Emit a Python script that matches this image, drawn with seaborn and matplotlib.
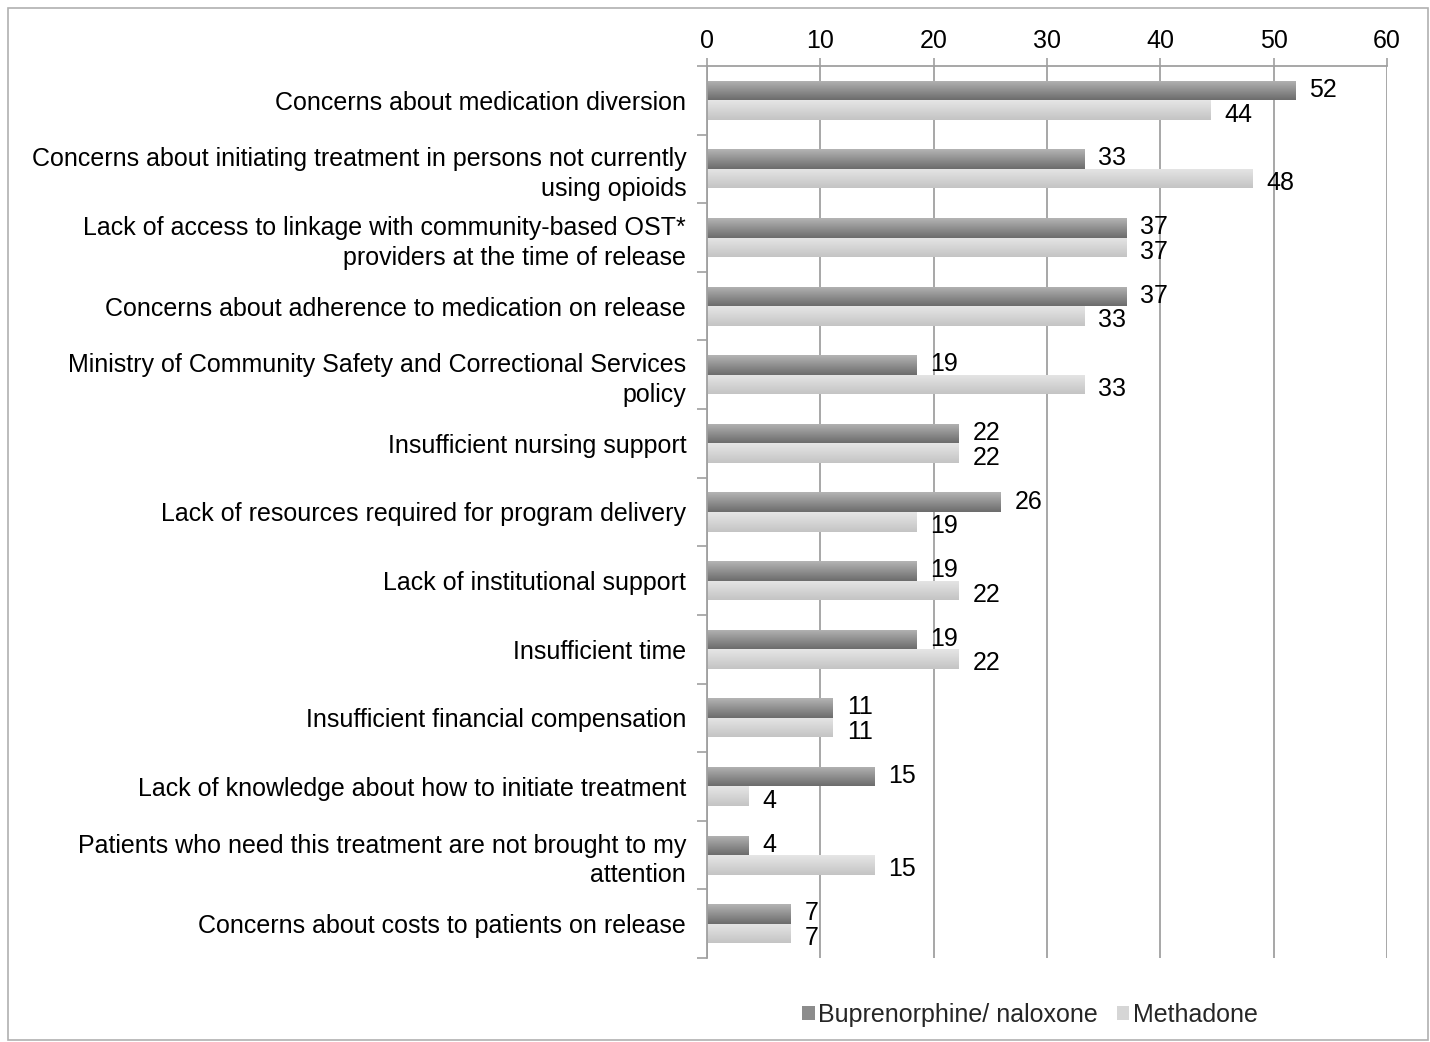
import numpy as np
import pandas as pd
import matplotlib
matplotlib.use("Agg")
import matplotlib.pyplot as plt
import seaborn as sns
from matplotlib.patches import Rectangle
from matplotlib.colors import LinearSegmentedColormap

categories = [
    "Concerns about medication diversion",
    "Concerns about initiating treatment in persons not currently\nusing opioids",
    "Lack of access to linkage with community-based OST*\nproviders at the time of release",
    "Concerns about adherence to medication on release",
    "Ministry of Community Safety and Correctional Services\npolicy",
    "Insufficient nursing support",
    "Lack of resources required for program delivery",
    "Lack of institutional support",
    "Insufficient time",
    "Insufficient financial compensation",
    "Lack of knowledge about how to initiate treatment",
    "Patients who need this treatment are not brought to my\nattention",
    "Concerns about costs to patients on release",
]
series_names = ["Buprenorphine/ naloxone", "Methadone"]
bup_values = [51.9, 33.3, 37.0, 37.0, 18.5, 22.2, 25.9, 18.5, 18.5, 11.1, 14.8, 3.7, 7.4]
met_values = [44.4, 48.1, 37.0, 33.3, 33.3, 22.2, 18.5, 22.2, 22.2, 11.1, 3.7, 14.8, 7.4]
bup_labels = ["52", "33", "37", "37", "19", "22", "26", "19", "19", "11", "15", "4", "7"]
met_labels = ["44", "48", "37", "33", "33", "22", "19", "22", "22", "11", "4", "15", "7"]
x_ticks = [0, 10, 20, 30, 40, 50, 60]

df = pd.DataFrame({
    "category": categories * 2,
    "value": bup_values + met_values,
    "series": [series_names[0]] * len(categories) + [series_names[1]] * len(categories),
})

sns.set_theme(style="white")
plt.rcParams["font.family"] = ["Liberation Sans", "DejaVu Sans"]
FS = 18

fig = plt.figure(figsize=(14.3, 10.42), dpi=100)
ax = fig.add_axes([707 / 1430, 1 - 958 / 1042, 680 / 1430, (958 - 66) / 1042])

sns.barplot(data=df, y="category", x="value", hue="series", order=categories,
            hue_order=series_names, palette=["#8c8c8c", "#d6d6d6"], orient="h",
            width=0.57, ax=ax, legend=False, saturation=1)

n = len(categories)
ax.set_xlabel("")
ax.set_ylabel("")

# gradient overlay
grads = {0: ("#b4b4b4", "#6c6c6c"), 1: ("#e6e6e6", "#c4c4c4")}
for i, p in enumerate(ax.patches[: 2 * n]):
    s = i // n
    cmap = LinearSegmentedColormap.from_list("g%d" % s, list(grads[s]))
    x0, y0 = p.get_x(), p.get_y()
    w, h = p.get_width(), p.get_height()
    grad = np.linspace(0, 1, 64).reshape(-1, 1)
    im = ax.imshow(grad, cmap=cmap, aspect="auto", extent=(x0, x0 + w, y0 + h, y0),
                   origin="upper", zorder=p.get_zorder() + 0.1, interpolation="bilinear")
    im.set_clip_path(p)
    p.set_edgecolor("none")
ax.set_xlim(0, 60)
ax.set_ylim(n - 0.5, -0.5)

# value labels
for i, p in enumerate(ax.patches[: 2 * n]):
    s = i // n
    idx = i % n
    lab = bup_labels[idx] if s == 0 else met_labels[idx]
    dy = 0.5 if s == 0 else -3.2
    ax.annotate(lab, (p.get_x() + p.get_width(), p.get_y() + p.get_height() / 2),
                xytext=(10, dy), textcoords="offset points", va="center", ha="left",
                fontsize=FS, color="#000000", zorder=5)

# axes styling
ax.xaxis.tick_top()
ax.set_xticks(x_ticks)
ax.set_xticklabels([str(t) for t in x_ticks], fontsize=FS, color="#000000")
ax.tick_params(axis="x", top=True, length=6, width=1.2, color="#a0a0a0", pad=3)
ax.grid(axis="x", color="#a0a0a0", linewidth=1.3, zorder=0)
ax.set_axisbelow(True)

ax.set_yticks(range(n))
ax.set_yticklabels(categories, fontsize=FS, color="#000000", ha="right")
ax.tick_params(axis="y", which="major", length=0, pad=15)
ax.set_yticks(np.arange(-0.5, n, 1), minor=True)
ax.tick_params(axis="y", which="minor", left=True, length=7, width=1.2, color="#a0a0a0")
for lbl in ax.get_yticklabels():
    lbl.set_multialignment("right")
    lbl.set_linespacing(1.3)

for side in ["right", "bottom"]:
    ax.spines[side].set_visible(False)
for side in ["top", "left"]:
    ax.spines[side].set_color("#a0a0a0")
    ax.spines[side].set_linewidth(1.3)

# legend
handles = [Rectangle((0, 0), 1, 1, facecolor="#8c8c8c", edgecolor="none"),
           Rectangle((0, 0), 1, 1, facecolor="#d6d6d6", edgecolor="none")]
fig.legend(handles, series_names, loc="center", bbox_to_anchor=(1030 / 1430, 1 - 1015 / 1042),
           ncol=2, frameon=False, fontsize=FS, handlelength=0.5, handleheight=0.5,
           handletextpad=0.15, columnspacing=0.75)

# outer frame
fig.patches.append(Rectangle((8 / 1430, 2 / 1042), 1420 / 1430, 1032 / 1042,
                             transform=fig.transFigure, fill=False,
                             edgecolor="#b0b0b0", linewidth=1.2))

fig.savefig("out.png", dpi=100)
